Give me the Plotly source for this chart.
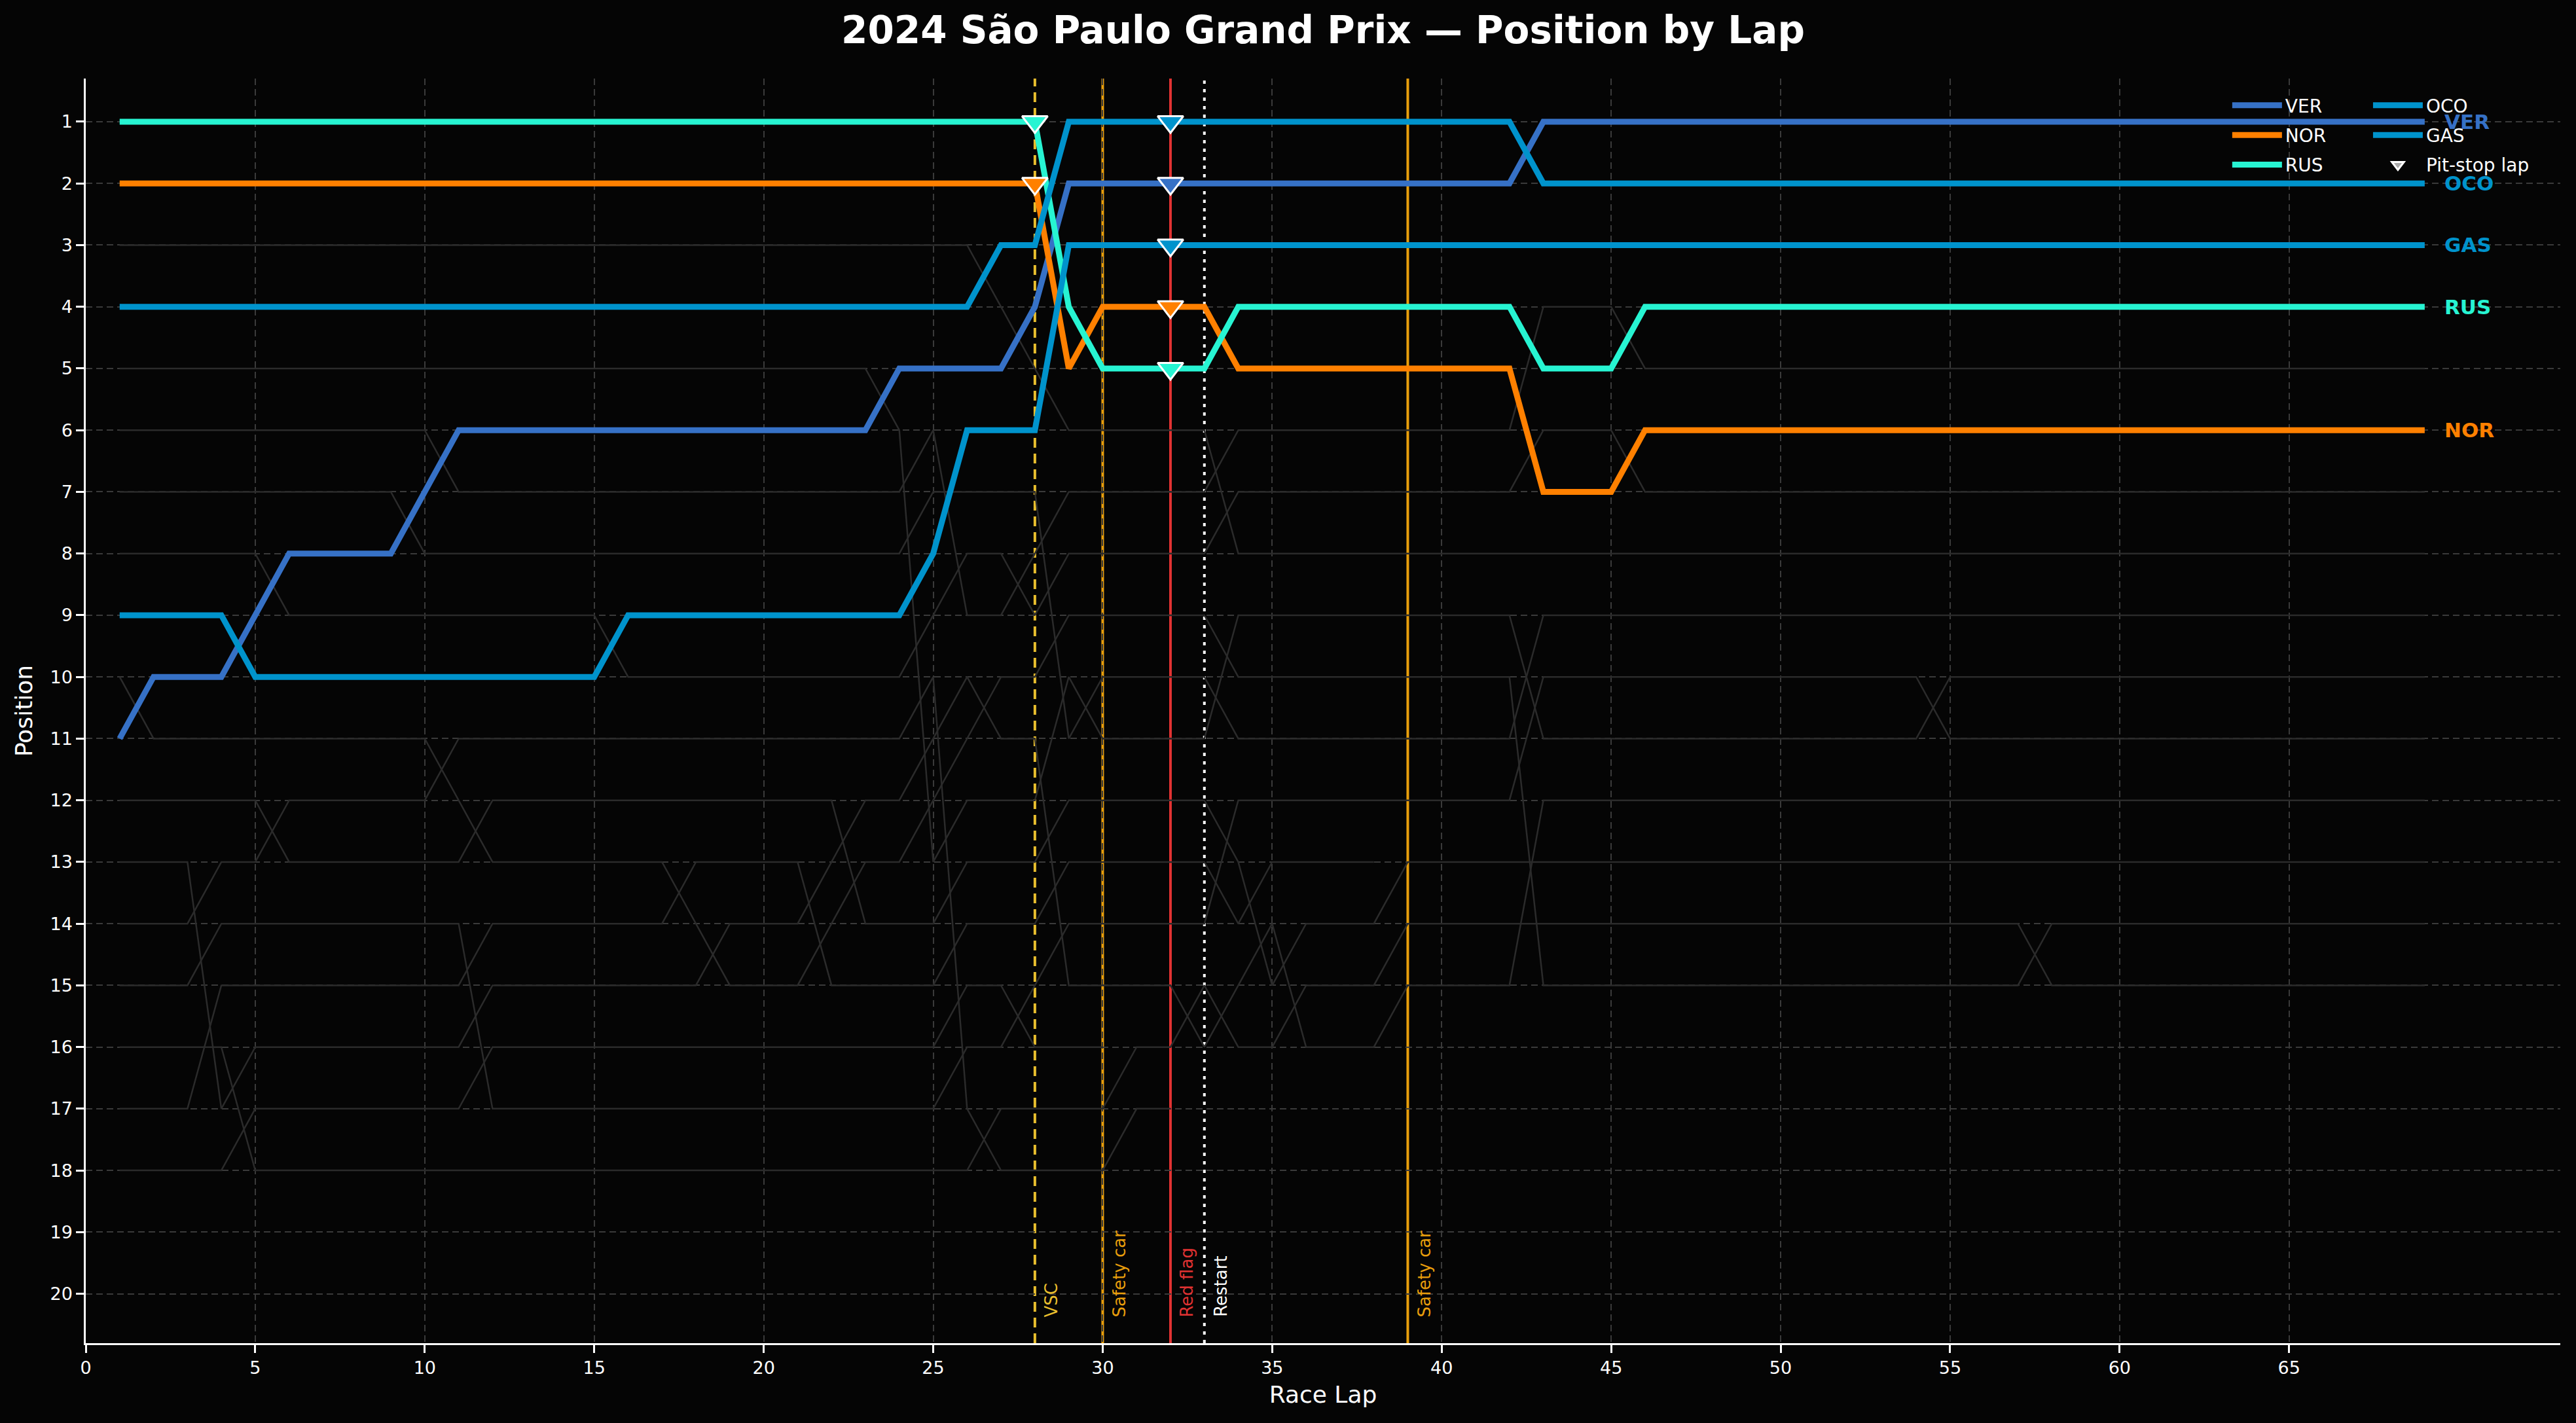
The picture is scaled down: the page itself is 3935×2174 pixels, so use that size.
import plotly.graph_objects as go

# ---- data ----
laps = list(range(1, 70))

drivers = ["VER", "NOR", "RUS", "OCO", "GAS"]

VER = [11, 10, 10, 10, 9, 8, 8, 8, 8, 7,
       6, 6, 6, 6, 6, 6, 6, 6, 6, 6,
       6, 6, 6, 5, 5, 5, 5, 4, 2, 2,
       2, 2, 2, 2, 2, 2, 2, 2, 2, 2,
       2, 2, 1, 1, 1, 1, 1, 1, 1, 1,
       1, 1, 1, 1, 1, 1, 1, 1, 1, 1,
       1, 1, 1, 1, 1, 1, 1, 1, 1]
NOR = [2, 2, 2, 2, 2, 2, 2, 2, 2, 2,
       2, 2, 2, 2, 2, 2, 2, 2, 2, 2,
       2, 2, 2, 2, 2, 2, 2, 2, 5, 4,
       4, 4, 4, 5, 5, 5, 5, 5, 5, 5,
       5, 5, 7, 7, 7, 6, 6, 6, 6, 6,
       6, 6, 6, 6, 6, 6, 6, 6, 6, 6,
       6, 6, 6, 6, 6, 6, 6, 6, 6]
RUS = [1, 1, 1, 1, 1, 1, 1, 1, 1, 1,
       1, 1, 1, 1, 1, 1, 1, 1, 1, 1,
       1, 1, 1, 1, 1, 1, 1, 1, 4, 5,
       5, 5, 5, 4, 4, 4, 4, 4, 4, 4,
       4, 4, 5, 5, 5, 4, 4, 4, 4, 4,
       4, 4, 4, 4, 4, 4, 4, 4, 4, 4,
       4, 4, 4, 4, 4, 4, 4, 4, 4]
OCO = [4, 4, 4, 4, 4, 4, 4, 4, 4, 4,
       4, 4, 4, 4, 4, 4, 4, 4, 4, 4,
       4, 4, 4, 4, 4, 4, 3, 3, 1, 1,
       1, 1, 1, 1, 1, 1, 1, 1, 1, 1,
       1, 1, 2, 2, 2, 2, 2, 2, 2, 2,
       2, 2, 2, 2, 2, 2, 2, 2, 2, 2,
       2, 2, 2, 2, 2, 2, 2, 2, 2]
GAS = [9, 9, 9, 9, 10, 10, 10, 10, 10, 10,
       10, 10, 10, 10, 10, 9, 9, 9, 9, 9,
       9, 9, 9, 9, 8, 6, 6, 6, 3, 3,
       3, 3, 3, 3, 3, 3, 3, 3, 3, 3,
       3, 3, 3, 3, 3, 3, 3, 3, 3, 3,
       3, 3, 3, 3, 3, 3, 3, 3, 3, 3,
       3, 3, 3, 3, 3, 3, 3, 3, 3]

positions = {"VER": VER, "NOR": NOR, "RUS": RUS, "OCO": OCO, "GAS": GAS}
colors = {"VER": "#3671C6", "NOR": "#FF8000", "RUS": "#27F4D2",
          "OCO": "#0093CC", "GAS": "#0093CC"}
pit_laps = {"VER": [32], "NOR": [28, 32], "RUS": [28, 32],
            "OCO": [32], "GAS": [32]}

# rest of the field (drawn faint grey)
f01 = [3, 3, 3, 3, 3, 3, 3, 3, 3, 3, 3, 3, 3, 3, 3, 3, 3, 3, 3, 3,
       3, 3, 3, 3, 3, 3, 4, 5, 6, 6, 6, 6, 6, 8, 8, 8, 8, 8, 8, 8,
       8, 8, 8, 8, 8, 8, 8, 8, 8, 8, 8, 8, 8, 8, 8, 8, 8, 8, 8, 8,
       8, 8, 8, 8, 8, 8, 8, 8, 8]
f02 = [5, 5, 5, 5, 5, 5, 5, 5, 5, 5, 5, 5, 5, 5, 5, 5, 5, 5, 5, 5,
       5, 5, 5, 6, 13, 12, 12, 12, 10, 11, 11, 11, 11, 9, 9, 9, 9, 9, 9, 9,
       9, 9, 11, 11, 11, 11, 11, 11, 11, 11, 11, 11, 11, 11, 10, 10, 10, 10, 10, 10,
       10, 10, 10, 10, 10, 10, 10, 10, 10]
f03 = [6, 6, 6, 6, 6, 6, 6, 6, 6, 6, 7, 7, 7, 7, 7, 7, 7, 7, 7, 7,
       7, 7, 7, 7, 6, 9, 9, 8, 7, 7, 7, 7, 7, 6, 6, 6, 6, 6, 6, 6,
       6, 6, 4, 4, 4, 5, 5, 5, 5, 5, 5, 5, 5, 5, 5, 5, 5, 5, 5, 5,
       5, 5, 5, 5, 5, 5, 5, 5, 5]
f04 = [7, 7, 7, 7, 7, 7, 7, 7, 7, 8, 8, 8, 8, 8, 8, 8, 8, 8, 8, 8,
       8, 8, 8, 8, 7, 7, 7, 7, 11, 10, 10, 10, 10, 11, 11, 11, 11, 11, 11, 11,
       11, 11, 9, 9, 9, 9, 9, 9, 9, 9, 9, 9, 9, 9, 9, 9, 9, 9, 9, 9,
       9, 9, 9, 9, 9, 9, 9, 9, 9]
f05 = [8, 8, 8, 8, 8, 9, 9, 9, 9, 9, 9, 9, 9, 9, 9, 10, 10, 10, 10, 10,
       10, 10, 10, 10, 9, 8, 8, 9, 8, 8, 8, 8, 8, 7, 7, 7, 7, 7, 7, 7,
       7, 7, 6, 6, 6, 7, 7, 7, 7, 7, 7, 7, 7, 7, 7, 7, 7, 7, 7, 7,
       7, 7, 7, 7, 7, 7, 7, 7, 7]
f06 = [10, 11, 11, 11, 11, 11, 11, 11, 11, 11, 12, 13, 13, 13, 13, 13, 13, 14, 15, 15,
       15, 14, 13, 13, 12, 11, 10, 10, 9, 9, 9, 9, 9, 10, 10, 10, 10, 10, 10, 10,
       10, 10, 15, 15, 15, 15, 15, 15, 15, 15, 15, 15, 15, 15, 15, 15, 15, 14, 14, 14,
       14, 14, 14, 14, 14, 14, 14, 14, 14]
f07 = [12, 12, 12, 12, 12, 13, 13, 13, 13, 13, 13, 12, 12, 12, 12, 12, 12, 12, 12, 12,
       12, 12, 14, 14, 14, 13, 13, 13, 12, 12, 12, 12, 12, 13, 15, 14, 14, 14, 13, 13,
       13, 13, 13, 13, 13, 13, 13, 13, 13, 13, 13, 13, 13, 13, 13, 13, 13, 13, 13, 13,
       13, 13, 13, 13, 13, 13, 13, 13, 13]
f08 = [13, 13, 13, 17, 16, 16, 16, 16, 16, 16, 16, 15, 15, 15, 15, 15, 15, 15, 14, 14,
       14, 13, 12, 12, 11, 10, 11, 11, 15, 15, 15, 15, 16, 15, 14, 16, 16, 16, 15, 15,
       15, 15, 12, 12, 12, 12, 12, 12, 12, 12, 12, 12, 12, 12, 12, 12, 12, 12, 12, 12,
       12, 12, 12, 12, 12, 12, 12, 12, 12]
f09 = [14, 14, 14, 13, 13, 12, 12, 12, 12, 12, 11, 11, 11, 11, 11, 11, 11, 11, 11, 11,
       11, 11, 11, 11, 10, 17, 18, 18, 18, 18, 17, 17]
f10 = [15, 15, 15, 14, 14, 14, 14, 14, 14, 14, 14, 17, 17, 17, 17, 17, 17, 17, 17, 17,
       17, 17, 17, 17, 17, 16, 16, 15, 14, 14, 14, 14, 14, 12, 12, 12, 12, 12, 12, 12,
       12, 12, 10, 10, 10, 10, 10, 10, 10, 10, 10, 10, 10, 10, 11, 11, 11, 11, 11, 11,
       11, 11, 11, 11, 11, 11, 11, 11, 11]
f11 = [16, 16, 16, 16, 18, 18, 18, 18, 18, 18, 18, 18, 18, 18, 18, 18, 18, 18, 18, 18,
       18, 18, 18, 18, 18, 18, 17, 17, 17, 17, 16, 16, 15, 16, 16, 15, 15, 15, 14, 14,
       14, 14, 14, 14, 14, 14, 14, 14, 14, 14, 14, 14, 14, 14, 14, 14, 14, 15, 15, 15,
       15, 15, 15, 15, 15, 15, 15, 15, 15]
f12 = [17, 17, 17, 15, 15, 15, 15, 15, 15, 15, 15, 14, 14, 14, 14, 14, 14, 13, 13, 13,
       13, 15, 15, 15, 15, 14, 14, 14, 13, 13, 13, 13, 13, 14, 13, 13, 13, 13]
f13 = [18, 18, 18, 18, 17, 17, 17, 17, 17, 17, 17, 16, 16, 16, 16, 16, 16, 16, 16, 16,
       16, 16, 16, 16, 16, 15, 15, 16, 16, 16]
field = [f01, f02, f03, f04, f05, f06, f07, f08, f09, f10, f11, f12, f13]

event_laps = [28, 30, 32, 33, 39]
event_names = ["VSC", "Safety car", "Red flag", "Restart", "Safety car"]
event_colors = ["#E8BE2E", "#E89E0C", "#E03232", "#FFFFFF", "#E89E0C"]
event_dash = ["15px,9px", "solid", "solid", "5px,8px", "solid"]

x_ticks = list(range(0, 70, 5))
y_ticks = list(range(1, 21))

FONT = "DejaVu Sans"
BG = "#050505"

fig = go.Figure()

for seq in field:
    fig.add_trace(go.Scatter(x=laps[:len(seq)], y=seq, mode="lines",
                             line=dict(color="#2b2b2b", width=2.5),
                             showlegend=False, hoverinfo="skip"))

for i, d in enumerate(drivers):
    fig.add_trace(go.Scatter(x=laps, y=positions[d], mode="lines", name=d,
                             line=dict(color=colors[d], width=9),
                             legend="legend" if i < 3 else "legend2",
                             legendgroup=d))

for d in drivers:
    pl = pit_laps[d]
    fig.add_trace(go.Scatter(x=pl, y=[positions[d][l - 1] for l in pl],
                             mode="markers", showlegend=False,
                             marker=dict(symbol="triangle-down", size=34,
                                         color=colors[d],
                                         line=dict(color="white", width=3))))

# legend-only entry for the pit marker
fig.add_trace(go.Scatter(x=[None], y=[None], mode="markers", name="Pit-stop lap",
                         legend="legend2", legendgroup="pit",
                         marker=dict(symbol="triangle-down", size=34, color="#aaaaaa",
                                     line=dict(color="white", width=3))))

for lap, name, col, dash in zip(event_laps, event_names, event_colors, event_dash):
    fig.add_shape(type="line", x0=lap, x1=lap, y0=0, y1=1, xref="x", yref="paper",
                  line=dict(color=col, width=4, dash=dash), layer="between")
    fig.add_annotation(x=lap + 0.16, y=20.4, text=name, textangle=-90,
                       xanchor="left", yanchor="bottom", showarrow=False,
                       font=dict(family=FONT, size=26, color=col))

# driver labels at the end of each line
for d in drivers:
    fig.add_annotation(x=69.55, y=positions[d][-1], text="<b>%s</b>" % d,
                       xanchor="left", yanchor="middle", showarrow=False,
                       font=dict(family=FONT, size=31, color=colors[d]))

legend_style = dict(bgcolor="rgba(0,0,0,0)", borderwidth=0, xanchor="left",
                    yanchor="top", y=0.9917, itemwidth=76, tracegroupgap=6,
                    font=dict(family=FONT, size=28, color="white"))

fig.update_layout(
    width=3935, height=2174,
    paper_bgcolor=BG, plot_bgcolor=BG,
    margin=dict(l=131, r=24, t=120, b=122, pad=0),
    font=dict(family=FONT, color="white"),
    title=dict(text="<b>2024 São Paulo Grand Prix — Position by Lap</b>",
               x=0.5, xref="paper", xanchor="center",
               y=1 - 46 / 2174, yref="container", yanchor="middle",
               font=dict(family=FONT, size=58, color="white")),
    legend=dict(x=0.8661, **legend_style),
    legend2=dict(x=0.9230, **legend_style),
    xaxis=dict(range=[0, 73], tickvals=x_ticks, ticks="outside", ticklen=12,
               tickwidth=2.5, tickcolor="white", showline=True, linecolor="white",
               linewidth=2.5, showgrid=True, gridcolor="#3a3a3a", gridwidth=2,
               griddash="10px,6px", zeroline=False,
               tickfont=dict(family=FONT, size=27, color="white"),
               title=dict(text="Race Lap", standoff=14,
                          font=dict(family=FONT, size=36, color="white"))),
    yaxis=dict(range=[20.8, 0.3], tickvals=y_ticks, ticks="outside", ticklen=12,
               tickwidth=2.5, tickcolor="white", showline=True, linecolor="white",
               linewidth=2.5, showgrid=True, gridcolor="#3a3a3a", gridwidth=2,
               griddash="10px,6px", zeroline=False,
               tickfont=dict(family=FONT, size=27, color="white"),
               title=dict(text="Position", standoff=16,
                          font=dict(family=FONT, size=36, color="white"))),
)

# drop the page's default white body margin so the dark figure fills the window
fig.write_html("out.html", config={"displayModeBar": False},
               post_script="document.body.style.margin='0px';"
                           "document.body.style.background='%s';" % BG)
